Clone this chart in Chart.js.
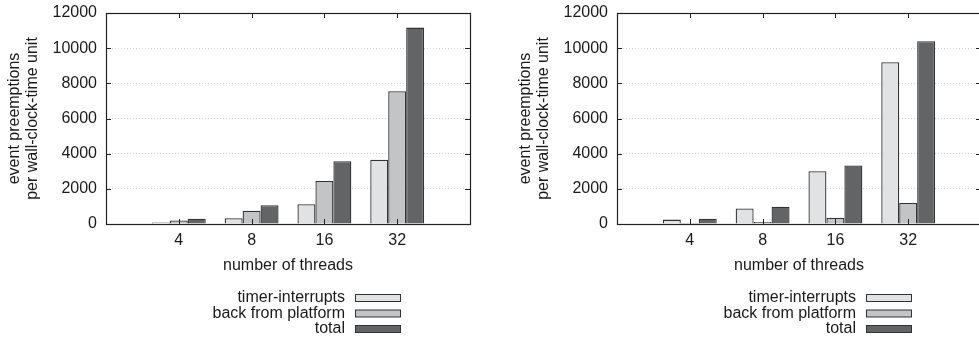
<!DOCTYPE html>
<html lang="en">
<head>
<meta charset="UTF-8">
<title>event preemptions</title>
<script src="https://cdn.jsdelivr.net/npm/chart.js@4/dist/chart.umd.min.js"></script>
<style>
  html, body { margin: 0; padding: 0; background: #fff; overflow: hidden; }
  body { width: 979px; height: 342px; position: relative; }
  .box { position: absolute; top: 0; width: 490px; height: 342px; }
</style>
</head>
<body>
<div class="box" style="left:0px"><canvas id="left"></canvas></div>
<div class="box" style="left:511px"><canvas id="right"></canvas></div>

<script>
// data
const threads = ['4', '8', '16', '32'];
const seriesNames = ['timer-interrupts', 'back from platform', 'total'];
const seriesColors = ['#e1e2e4', '#c3c4c6', '#636466'];

const timerLeft = [80, 330, 1130, 3650];
const backLeft = [200, 750, 2450, 7550];
const totalLeft = [300, 1070, 3570, 11170];

const timerRight = [250, 880, 3000, 9200];
const backRight = [50, 120, 350, 1200];
const totalRight = [300, 980, 3330, 10400];

const yTicks = [0, 2000, 4000, 6000, 8000, 10000, 12000];

const FONT = '"Liberation Sans", Arial, sans-serif';
const INK = '#1a1a1a';

// pad an empty slot on each side so the groups sit at 1..4 of 0..5
const labels = [''].concat(threads, ['']);
const pad = arr => [null].concat(arr, [null]);

// frame with small inward ticks, gnuplot style
const framePlugin = {
  id: 'frame',
  afterDatasetsDraw(chart) {
    const { ctx, chartArea: a, scales: { x, y } } = chart;
    ctx.save();
    ctx.strokeStyle = '#222';
    ctx.lineWidth = 1;
    ctx.beginPath();
    y.ticks.forEach(t => {
      const py = Math.round(y.getPixelForValue(t.value)) + 0.5;
      ctx.moveTo(a.left, py); ctx.lineTo(a.left + 5, py);
      ctx.moveTo(a.right, py); ctx.lineTo(a.right - 5, py);
    });
    for (let i = 1; i <= threads.length; i++) {
      const px = Math.round(x.getPixelForValue(i)) + 0.5;
      ctx.moveTo(px, a.bottom); ctx.lineTo(px, a.bottom - 5);
      ctx.moveTo(px, a.top); ctx.lineTo(px, a.top + 5);
    }
    ctx.stroke();
    ctx.lineWidth = 1.2;
    ctx.strokeRect(Math.round(a.left) + 0.5, Math.round(a.top) + 0.5,
                   Math.round(a.right - a.left), Math.round(a.bottom - a.top));
    ctx.restore();
  }
};

// legend below: text right-aligned, swatch on its right
const legendPlugin = {
  id: 'sideLegend',
  afterDraw(chart) {
    const { ctx, chartArea: a } = chart;
    const cx = (a.left + a.right) / 2;
    ctx.save();
    ctx.font = '16px ' + FONT;
    ctx.textAlign = 'right';
    ctx.textBaseline = 'middle';
    chart.data.datasets.forEach((ds, i) => {
      const ry = 298 + i * 15.5;
      ctx.fillStyle = INK;
      ctx.fillText(ds.label, cx + 57, ry);
      ctx.fillStyle = ds.backgroundColor;
      ctx.fillRect(cx + 67, ry - 3.5, 45, 7);
      ctx.strokeStyle = '#333';
      ctx.lineWidth = 1;
      ctx.strokeRect(cx + 67.5, ry - 3.5, 45, 7);
    });
    ctx.restore();
  }
};

function drawChart(id, values) {
  const ctx = document.getElementById(id).getContext('2d');
  return new Chart(ctx, {
    type: 'bar',
    data: {
      labels: labels,
      datasets: values.map((v, i) => ({
        label: seriesNames[i],
        data: pad(v),
        backgroundColor: seriesColors[i],
        borderColor: '#333',
        borderWidth: 1.3,
        categoryPercentage: 0.74,
        barPercentage: 1.0
      }))
    },
    options: {
      responsive: true,
      maintainAspectRatio: false,
      animation: false,
      layout: { padding: { left: 0, right: 20, top: 13, bottom: 66.6 } },
      plugins: {
        legend: { display: false },
        tooltip: { enabled: false }
      },
      scales: {
        x: {
          offset: false,
          afterFit(scale) { scale.height = 51.4; },
          grid: { display: false, drawTicks: false },
          border: { display: false },
          ticks: { color: INK, font: { family: FONT, size: 16 }, padding: 7, maxRotation: 0, autoSkip: false },
          title: {
            display: true, text: 'number of threads', color: INK,
            font: { family: FONT, size: 16, lineHeight: 1.2 },
            padding: { top: 6, bottom: 0 }
          }
        },
        y: {
          min: 0, max: 12000,
          afterBuildTicks(scale) { scale.ticks = yTicks.map(v => ({ value: v })); },
          afterFit(scale) {
            scale.width = 106;
            scale.paddingTop = 0;
            scale.paddingBottom = 0;
          },
          grid: { color: '#c8c8c8', lineWidth: 0.8, drawTicks: false },
          border: { display: false, dash: [1, 2] },
          ticks: { color: INK, font: { family: FONT, size: 16 }, padding: 9, callback: v => String(v) },
          title: {
            display: true, text: ['event preemptions', 'per wall-clock-time unit'], color: INK,
            font: { family: FONT, size: 16, lineHeight: 1.1 },
            padding: { top: 6, bottom: 0 }
          }
        }
      }
    },
    plugins: [framePlugin, legendPlugin]
  });
}

drawChart('left', [timerLeft, backLeft, totalLeft]);
drawChart('right', [timerRight, backRight, totalRight]);
</script>
</body>
</html>
